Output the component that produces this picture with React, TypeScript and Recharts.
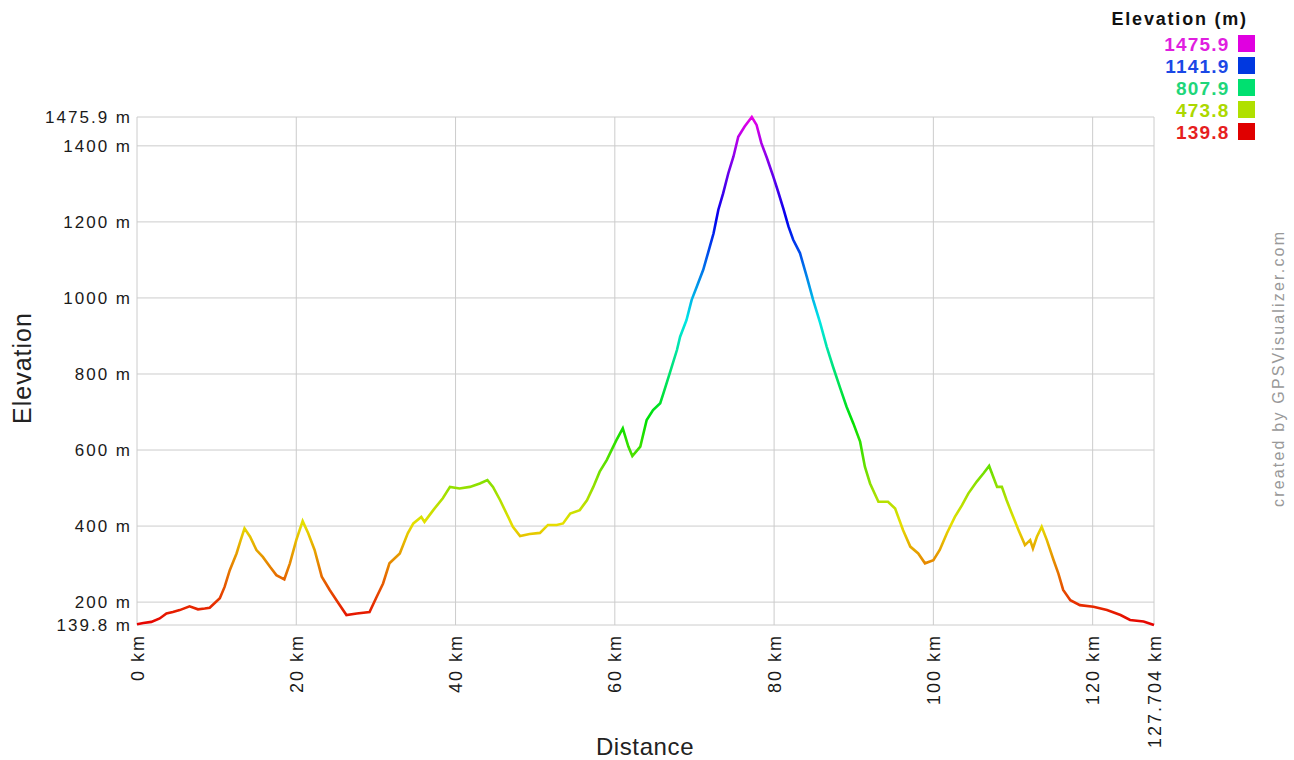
import React from "react";
import { LineChart, Line, XAxis, YAxis, CartesianGrid } from "recharts";

// Distance along the track (km) and elevation (m), read from the profile
const distanceKm = [
  0, 0.8, 1.8, 2.85, 3.7, 4.5, 5.36, 6.6, 7.66, 8.5, 9.13, 10.4, 11.0, 11.65, 12.5, 13.0, 13.5, 14.2, 15.0,
  15.8, 16.7, 17.5, 18.5, 19.2, 20.0, 20.8, 21.5, 22.3, 23.2, 24.2, 25.3, 26.3, 27.6, 29.2, 30.1, 30.9,
  31.7, 33.0, 34.0, 34.7, 35.7, 36.1, 37.2, 38.4, 39.3, 40.5, 41.8, 43.05, 44.0, 44.7, 45.6, 46.4, 47.2,
  48.1, 49.3, 50.6, 51.6, 52.7, 53.5, 54.4, 55.6, 56.5, 57.3, 58.1, 59.0, 59.8, 60.2, 61.0, 61.7, 62.2,
  63.2, 64.0, 64.8, 65.7, 66.1, 66.9, 67.8, 68.2, 69.0, 69.65, 70.3, 71.1, 71.7, 72.4, 73.0, 73.6, 74.25,
  74.9, 75.5, 76.3, 77.2, 77.8, 78.4, 79.1, 79.9, 80.5, 81.2, 81.8, 82.4, 83.25, 84.1, 84.9, 85.8, 86.6,
  87.4, 88.3, 89.1, 89.95, 90.8, 91.4, 92.05, 93.1, 94.3, 95.2, 96.2, 97.1, 98.1, 98.95, 100.0, 100.8,
  101.7, 102.7, 103.6, 104.4, 105.45, 106.3, 107.0, 108.0, 108.6, 109.2, 109.85, 110.7, 111.5, 112.15,
  112.5, 113.0, 113.6, 114.25, 115.1, 115.7, 116.3, 117.2, 118.4, 120.1, 121.8, 123.5, 124.7, 126.4, 127.704,
];
const elevationM = [
  142, 145, 148, 157, 170, 174, 179, 189, 181, 183, 185, 210, 240, 284, 328, 362, 394, 372, 337,
  319, 293, 271, 260, 302, 363, 413, 381, 337, 267, 232, 197, 166, 170, 174, 214, 249,
  302, 328, 381, 407, 424, 411, 442, 473, 503, 499, 503, 512, 521, 503, 468, 433, 398,
  374, 379, 382, 403, 403, 407, 433, 442, 468, 503, 543, 574, 609, 626, 657, 609, 584,
  609, 679, 705, 723, 749, 802, 863, 898, 942, 995, 1030, 1074, 1118, 1170, 1232, 1275, 1328,
  1372, 1424, 1451, 1475.9, 1455, 1407, 1368, 1319, 1280, 1232, 1188, 1153, 1118, 1056, 995, 933, 872,
  819, 763, 714, 670, 622, 556, 512, 464, 464, 446, 389, 346, 328, 302, 310, 337,
  381, 424, 455, 486, 517, 539, 558, 503, 503, 468, 433, 389, 350, 363,
  341, 372, 398, 363, 310, 275, 232, 205, 192, 188, 179, 166, 153, 149, 139.8,
];

const xTicks = [0, 20, 40, 60, 80, 100, 120, 127.704];
const yTicks = [139.8, 200, 400, 600, 800, 1000, 1200, 1400, 1475.9];

const legendValues = ["1475.9", "1141.9", "807.9", "473.8", "139.8"];
const legendTextColors = ["#e01ee0", "#1a48e6", "#1ed67a", "#acd800", "#e61e1e"];
const legendSwatchColors = ["#e000e0", "#0038e0", "#00e070", "#b0e000", "#e00000"];

const data = distanceKm.map((km, i) => ({ km, ele: elevationM[i] }));

const FONT = "Arial, 'Liberation Sans', sans-serif";

function XTick(props: any) {
  const { x, payload } = props;
  return (
    <text
      x={x + 6.5}
      y={634}
      transform={`rotate(-90, ${x + 6.5}, 634)`}
      textAnchor="end"
      fontFamily={FONT}
      fontSize={18}
      letterSpacing={2}
      fill="#1a1a1a"
    >
      {payload.value} km
    </text>
  );
}

function YTick(props: any) {
  const { y, payload } = props;
  return (
    <text x={132} y={y + 6} textAnchor="end" fontFamily={FONT} fontSize={17} letterSpacing={2} fill="#1a1a1a">
      {payload.value} m
    </text>
  );
}

export default function App() {
  return (
    <div style={{ position: "absolute", left: 0, top: 0, width: 1294, height: 760, background: "#fff" }}>
      <LineChart width={1294} height={760} data={data} margin={{ top: 117, right: 140, left: 0, bottom: 0 }}>
        <defs>
          <linearGradient id="eleGrad" x1="0" y1="0" x2="0" y2="1">
            <stop offset="0" stopColor="#e800e8" />
            <stop offset="0.2" stopColor="#0000ee" />
            <stop offset="0.4" stopColor="#00e6e6" />
            <stop offset="0.6" stopColor="#00e000" />
            <stop offset="0.8" stopColor="#e6e000" />
            <stop offset="1" stopColor="#e60000" />
          </linearGradient>
        </defs>
        <CartesianGrid stroke="#cccccc" strokeWidth={1} />
        <XAxis
          type="number"
          dataKey="km"
          domain={[0, 127.704]}
          ticks={xTicks}
          interval={0}
          height={135}
          axisLine={false}
          tickLine={false}
          tick={<XTick />}
        />
        <YAxis
          type="number"
          domain={[139.8, 1475.9]}
          ticks={yTicks}
          interval={0}
          width={137}
          axisLine={false}
          tickLine={false}
          tick={<YTick />}
        />
        <Line
          type="linear"
          dataKey="ele"
          stroke="url(#eleGrad)"
          strokeWidth={2.6}
          dot={false}
          activeDot={false}
          isAnimationActive={false}
        />
      </LineChart>
      <svg
        width={1294}
        height={760}
        style={{ position: "absolute", left: 0, top: 0, pointerEvents: "none" }}
        fontFamily={FONT}
      >
        <text x={31} y={368} transform="rotate(-90, 31, 368)" textAnchor="middle" fontSize={25} letterSpacing={1} fill="#222">
          Elevation
        </text>
        <text x={645} y={755} textAnchor="middle" fontSize={24} letterSpacing={0.6} fill="#222">
          Distance
        </text>
        <text
          x={1283.5}
          y={369.5}
          transform="rotate(-90, 1283.5, 369.5)"
          textAnchor="middle"
          fontSize={16}
          textLength={275}
          lengthAdjust="spacing"
          fill="#999"
        >
          created by GPSVisualizer.com
        </text>
        <text x={1111.5} y={25} fontSize={18} fontWeight="bold" letterSpacing={1.8} fill="#111">
          Elevation (m)
        </text>
        {legendValues.map((v, i) => (
          <g key={v}>
            <text
              x={1229.5}
              y={50.7 + i * 22}
              textAnchor="end"
              fontSize={19}
              fontWeight="bold"
              letterSpacing={1.2}
              fill={legendTextColors[i]}
            >
              {v}
            </text>
            <rect x={1238} y={35 + i * 22} width={17} height={17} fill={legendSwatchColors[i]} />
          </g>
        ))}
      </svg>
    </div>
  );
}
